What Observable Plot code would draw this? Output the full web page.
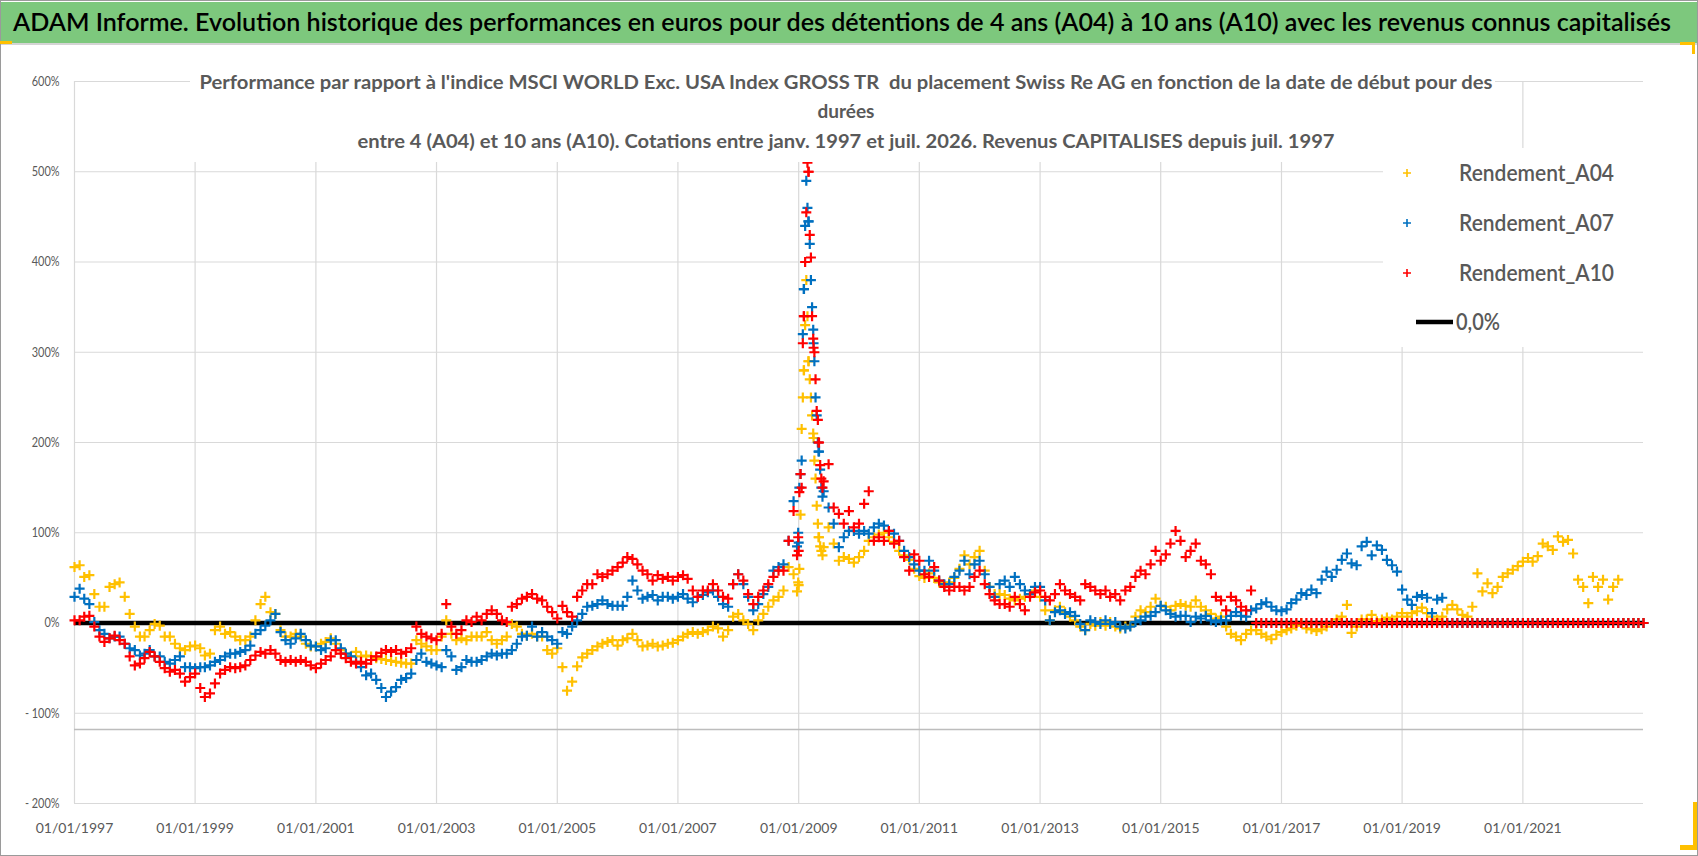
<!DOCTYPE html>
<html><head><meta charset="utf-8">
<script src="https://cdn.jsdelivr.net/npm/d3@7"></script>
<script src="https://cdn.jsdelivr.net/npm/@observablehq/plot@0.6"></script>
<style>
html,body{margin:0;padding:0;background:#fff;}
#wrap{position:relative;width:1698px;height:856px;overflow:hidden;background:#fff;}
#frame{position:absolute;left:0;top:0;width:1696px;height:854px;border:1px solid #9a9a9a;pointer-events:none;z-index:5}
#banner{position:absolute;left:1px;top:2px;width:1696px;height:41px;background:#7dc87d;border-bottom:2px solid #d4d4d4;}
#chart{position:absolute;left:0;top:46px;}
.handle{position:absolute;background:#ffc000;z-index:6}
</style></head>
<body><div id="wrap">
<div id="banner"><svg width="1696" height="41" style="display:block;overflow:visible"><text x="12" y="29" text-anchor="start" font-family="Lato, 'Open Sans', sans-serif" font-weight="600" font-size="25" fill="#000" textLength="1658" lengthAdjust="spacingAndGlyphs">ADAM Informe. Evolution historique des performances en euros pour des détentions de 4 ans (A04) à 10 ans (A10) avec les revenus connus capitalisés</text></svg></div>
<div id="chart"></div>
<div id="frame"></div>
<div class="handle" style="left:0;top:41px;width:12px;height:3px"></div>
<div class="handle" style="left:1680px;top:42px;width:15px;height:3px"></div>
<div class="handle" style="left:1692px;top:42px;width:3px;height:12px"></div>
<div class="handle" style="left:1693px;top:802px;width:4px;height:48px"></div>
<div class="handle" style="left:1680px;top:845px;width:17px;height:5px"></div>
</div>
<script>
// ---------- data (monthly readings, first month = Jan 1997) ----------
const startMonth = "1997-01-01";
const A04 = [
 62, 64, 51, 53, 32, 18, 18, 40, 43, 45, 29, 10,
 -4, -15, -15, -8, -1, -3, -15, -15, -23, -28, -30, -26,
 -25, -28, -36, -34, -8, -4, -12, -10, -15, -19, -19, -15,
 3, 21, 29, 12, 10, -8, -15, -15, -12, -15, -23, -26,
 -26, -23, -21, -17, -23, -30, -34, -37, -32, -37, -36, -37,
 -39, -40, -41, -42, -43, -44, -45, -45, -19, -23, -26, -30,
 -30, -15, 3, -12, -19, -17, -19, -15, -15, -15, -10, -19,
 -23, -19, -15, -1, -4, -12, -14, -12, -15, -15, -30, -34,
 -28, -49, -75, -65, -48, -38, -34, -30, -26, -23, -21, -19,
 -25, -19, -17, -12, -19, -26, -25, -23, -26, -25, -23, -22,
 -19, -15, -12, -10, -12, -10, -8, -4, -6, -15, -8, 7,
 10, 3, -1, -8, 3, 10, 18, 25, 29, 36, 62, 54,
 42, 280, 290, 205, 95, 84, 106, 88, 69, 73, 71, 67,
 73, 80, 91, 95, 98, 100, 95, 90, 80, 75, 70, 60,
 52, 50, 55, 50, 45, 42, 45, 50, 60, 75, 65, 73,
 80, 58, 40, 32, 32, 31, 27, 25, 27, 29, 32, 36,
 29, 14, 3, 14, 18, 12, 7, 3, -4, -8, -1, -3,
 1, -3, 1, -4, -6, -4, -3, 7, 14, 12, 18, 27,
 19, 18, 14, 19, 21, 19, 18, 25, 18, 14, 10, 5,
 7, -4, -12, -15, -19, -12, -8, -8, -12, -15, -18, -13,
 -10, -8, -6, -3, 0, -6, -7, -9, -7, -4, 0, 4,
 7, 20, -11, -4, 4, 4, 9, 2, 4, 6, 4, 7,
 11, 7, 11, 13, 17, 11, 7, 4, 7, 15, 20, 15,
 9, 7, 18, 55, 35, 44, 33, 40, 51, 55, 59, 63,
 68, 72, 68, 74, 88, 85, 81, 96, 90, 92, 77, 48,
 40, 22, 51, 40, 48, 26, 40, 48, 0, 0, 0, 0,
 0];
const A07 = [
 29, 38, 27, 21, 1, -8, -12, -17, -15, -15, -23, -28,
 -30, -36, -34, -30, -37, -37, -43, -45, -41, -37, -49, -49,
 -50, -49, -49, -47, -43, -41, -37, -34, -34, -32, -30, -25,
 -12, -8, -3, 3, 10, -10, -19, -23, -17, -12, -19, -25,
 -26, -30, -28, -19, -19, -28, -34, -37, -43, -49, -58, -56,
 -63, -72, -82, -76, -71, -63, -61, -56, -41, -34, -43, -45,
 -47, -49, -30, -37, -52, -49, -41, -43, -43, -41, -37, -34,
 -36, -34, -34, -30, -23, -15, -14, -4, -15, -10, -15, -19,
 -23, -10, -12, -4, 3, 10, 18, 19, 21, 25, 21, 19,
 19, 19, 29, 47, 36, 27, 29, 31, 25, 29, 29, 27,
 29, 32, 27, 23, 29, 31, 34, 36, 29, 21, 18, 43,
 54, 43, 29, 14, 21, 32, 40, 58, 62, 65, 91, 135,
 89, 370, 445, 310, 190, 146, 128, 110, 84, 95, 102, 102,
 99, 102, 99, 106, 110, 108, 102, 99, 91, 80, 73, 65,
 58, 58, 69, 58, 47, 43, 43, 51, 58, 69, 54, 65,
 69, 54, 40, 29, 43, 47, 40, 51, 43, 36, 32, 40,
 40, 25, 3, 12, 14, 10, 12, 8, -1, -8, 3, 1,
 -1, 3, -1, 1, -4, -6, -4, 1, 3, 7, 8, 12,
 19, 14, 10, 7, 8, 8, 1, 7, 5, 8, 3, 1,
 3, 3, 8, 12, 8, 7, 14, 16, 21, 23, 18, 14,
 13, 15, 22, 26, 33, 31, 37, 33, 48, 57, 51, 59,
 70, 77, 66, 64, 85, 90, 75, 86, 81, 70, 64, 57,
 37, 26, 20, 29, 31, 28, 11, 26, 28, 0, 0, 0,
 0, 0, 0, 0, 0, 0, 0, 0, 0, 0, 0, 0,
 0, 0, 0, 0, 0, 0, 0, 0, 0, 0, 0, 0,
 0, 0, 0, 0, 0, 0, 0, 0, 0, 0, 0, 0,
 0];
const A10 = [
 3, 3, 7, 8, -4, -15, -21, -17, -14, -19, -23, -37,
 -47, -45, -39, -32, -37, -43, -50, -54, -52, -56, -65, -60,
 -56, -72, -82, -78, -67, -56, -52, -49, -50, -49, -47, -41,
 -36, -32, -34, -30, -34, -41, -43, -41, -43, -41, -43, -47,
 -50, -45, -41, -37, -30, -34, -39, -43, -45, -43, -45, -41,
 -37, -33, -30, -32, -30, -34, -32, -28, -4, -12, -15, -17,
 -19, -12, 21, -4, -12, -8, 3, 1, 7, 3, 10, 14,
 10, 3, 1, 18, 21, 27, 29, 32, 27, 25, 18, 12,
 5, 19, 12, 7, 29, 36, 43, 43, 54, 51, 54, 58,
 62, 67, 73, 71, 65, 58, 54, 47, 53, 49, 51, 47,
 51, 53, 49, 36, 29, 36, 36, 43, 36, 29, 27, 43,
 54, 47, 32, 21, 29, 36, 43, 51, 58, 58, 91, 124,
 80, 340, 500, 305, 200, 157, 176, 128, 121, 110, 124, 106,
 110, 132, 146, 91, 95, 91, 102, 88, 91, 73, 58, 76,
 69, 54, 51, 62, 47, 40, 36, 40, 40, 36, 40, 51,
 58, 43, 32, 25, 21, 21, 18, 29, 21, 14, 29, 34,
 36, 29, 25, 32, 43, 36, 32, 29, 25, 43, 40, 36,
 32, 36, 29, 32, 25, 36, 40, 51, 58, 54, 65, 80,
 69, 76, 88, 102, 91, 73, 80, 88, 69, 65, 54, 29,
 25, 14, 29, 25, 18, 14, 36, 0, 0, 0, 0, 0,
 0, 0, 0, 0, 0, 0, 0, 0, 0, 0, 0, 0,
 0, 0, 0, 0, 0, 0, 0, 0, 0, 0, 0, 0,
 0, 0, 0, 0, 0, 0, 0, 0, 0, 0, 0, 0,
 0, 0, 0, 0, 0, 0, 0, 0, 0, 0, 0, 0,
 0, 0, 0, 0, 0, 0, 0, 0, 0, 0, 0, 0,
 0, 0, 0, 0, 0, 0, 0, 0, 0, 0, 0, 0,
 0];
// weekly readings around the early-2009 peak
const spikeDates = ["2008-12-22","2008-12-29","2009-01-05","2009-01-12","2009-01-19","2009-01-26","2009-02-02","2009-02-09","2009-02-16","2009-02-23","2009-03-02","2009-03-09","2009-03-16","2009-03-23","2009-03-30","2009-04-06","2009-04-13","2009-04-20","2009-04-27","2009-05-04","2009-05-11","2009-05-18","2009-05-25"];
const spikeA04 = [35, 45, 60, 120, 215, 250, 280, 330, 380, 340, 290, 270, 250, 230, 210, 180, 160, 130, 110, 95, 85, 80, 75];
const spikeA07 = [85, 100, 150, 165, 180, 320, 370, 440, 490, 460, 445, 420, 380, 350, 325, 290, 250, 230, 200, 190, 170, 150, 140];
const spikeA10 = [75, 95, 145, 165, 150, 310, 340, 400, 455, 510, 500, 430, 405, 340, 315, 300, 270, 235, 225, 200, 175, 160, 150];

const seriesNames = ["Rendement_A04", "Rendement_A07", "Rendement_A10"];
const seriesColors = ["#FFC000", "#0070C0", "#FF0000"];
const yTicks = [-200, -100, 0, 100, 200, 300, 400, 500, 600];
const xTickYears = [1997, 1999, 2001, 2003, 2005, 2007, 2009, 2011, 2013, 2015, 2017, 2019, 2021];
const xDomain = ["1997-01-01", "2023-01-01"];
const axisLineValue = -118;
const zeroLabel = "0,0%";
const subtitleLines = [
 "Performance par rapport à l'indice MSCI WORLD Exc. USA Index GROSS TR  du placement Swiss Re AG en fonction de la date de début pour des",
 "durées",
 "entre 4 (A04) et 10 ans (A10). Cotations entre janv. 1997 et juil. 2026. Revenus CAPITALISES depuis juil. 1997"
];

// ---------- build tables ----------
const parse = d3.utcParse("%Y-%m-%d");
const m0 = parse(startMonth);
const monthDates = A04.map((_, i) => d3.utcMonth.offset(m0, i));
const sDates = spikeDates.map(parse);
function table(vals, sVals) {
  return vals.map((v, i) => ({date: monthDates[i], value: v}))
    .concat(sVals.map((v, i) => ({date: sDates[i], value: v})));
}
const tables = [table(A04, spikeA04), table(A07, spikeA07), table(A10, spikeA10)];
const xTicks = xTickYears.map(y => new Date(Date.UTC(y, 0, 1)));

const plusSymbol = {
  draw(ctx, size) {
    const r = Math.sqrt(size / Math.PI);
    ctx.moveTo(-r, 0); ctx.lineTo(r, 0);
    ctx.moveTo(0, -r); ctx.lineTo(0, r);
  }
};
const fmtPct = d => d < 0 ? "- " + (-d) + "%" : d + "%";
const fmtDate = d3.utcFormat("%d/%m/%Y");

const plot = Plot.plot({
  width: 1698, height: 810,
  marginLeft: 74, marginRight: 55, marginTop: 35, marginBottom: 53,
  style: {fontFamily: "Lato, 'Open Sans', sans-serif", fontSize: "14px", color: "#595959", background: "white", overflow: "visible"},
  x: {type: "utc", domain: xDomain.map(parse)},
  y: {domain: [-200, 600]},
  marks: [
    Plot.gridY(yTicks, {stroke: "#d9d9d9", strokeOpacity: 1, strokeWidth: 1.2}),
    Plot.gridX(xTicks, {stroke: "#d9d9d9", strokeOpacity: 1, strokeWidth: 1.2}),
    Plot.ruleY([axisLineValue], {stroke: "#bdbdbd", strokeWidth: 1.4}),
    Plot.ruleY([0], {stroke: "#000", strokeWidth: 4.5}),
    ...tables.map((t, k) => Plot.dot(t, {x: "date", y: "value", symbol: plusSymbol, r: 5, fill: "none", stroke: seriesColors[k], strokeWidth: 2.2})),
    Plot.axisY(yTicks, {tickSize: 0, tickPadding: 15, tickFormat: fmtPct, fill: "#595959", fontSize: 14, label: null}),
    Plot.axisX(xTicks, {tickSize: 0, tickPadding: 20, tickFormat: fmtDate, fill: "#595959", fontSize: 14, label: null})
  ]
});
document.getElementById("chart").appendChild(plot);

// narrower y tick labels (reference uses a condensed face)
d3.select(plot).selectAll('g[aria-label="y-axis tick label"] text').each(function() {
  const len = this.getComputedTextLength();
  if (len > 0) { this.setAttribute("textLength", (len * 0.78).toFixed(1)); this.setAttribute("lengthAdjust", "spacingAndGlyphs"); }
});

// ---------- subtitle & legend (drawn over the plot frame) ----------
const svg = d3.select(plot);
svg.append("rect").attr("x", 190).attr("y", 24).attr("width", 1305).attr("height", 92).attr("fill", "white");
const subW = [1293, null, 977];
const subY = [43, 72, 102];
subtitleLines.forEach((s, i) => {
  const t = svg.append("text").attr("x", 846).attr("y", subY[i]).attr("text-anchor", "middle")
    .attr("font-family", "Lato, 'Open Sans', sans-serif").attr("font-weight", "bold").attr("font-size", 19)
    .attr("fill", "#595959").attr("xml:space", "preserve").text(s);
  if (subW[i]) t.attr("textLength", subW[i]).attr("lengthAdjust", "spacingAndGlyphs");
});
svg.append("rect").attr("x", 1383).attr("y", 102).attr("width", 260).attr("height", 199).attr("fill", "white");
const legY = [127, 177, 227];
seriesNames.forEach((n, i) => {
  svg.append("path").attr("d", `M${1403},${legY[i]}h8M${1407},${legY[i]-4}v8`).attr("stroke", seriesColors[i]).attr("stroke-width", 1.6);
  svg.append("text").attr("x", 1459).attr("y", legY[i] + 8).attr("text-anchor", "start").attr("font-family", "Lato, 'Open Sans', sans-serif")
    .attr("font-size", 23).attr("font-weight", "600").attr("fill", "#595959").attr("textLength", 155).attr("lengthAdjust", "spacingAndGlyphs").text(n);
});
svg.append("line").attr("x1", 1416).attr("x2", 1453).attr("y1", 276).attr("y2", 276).attr("stroke", "#000").attr("stroke-width", 4.5);
svg.append("text").attr("x", 1456).attr("y", 284).attr("text-anchor", "start").attr("font-family", "Lato, 'Open Sans', sans-serif")
  .attr("font-size", 22).attr("font-weight", "600").attr("fill", "#595959").attr("textLength", 44).attr("lengthAdjust", "spacingAndGlyphs").text(zeroLabel);
</script>
</body></html>
